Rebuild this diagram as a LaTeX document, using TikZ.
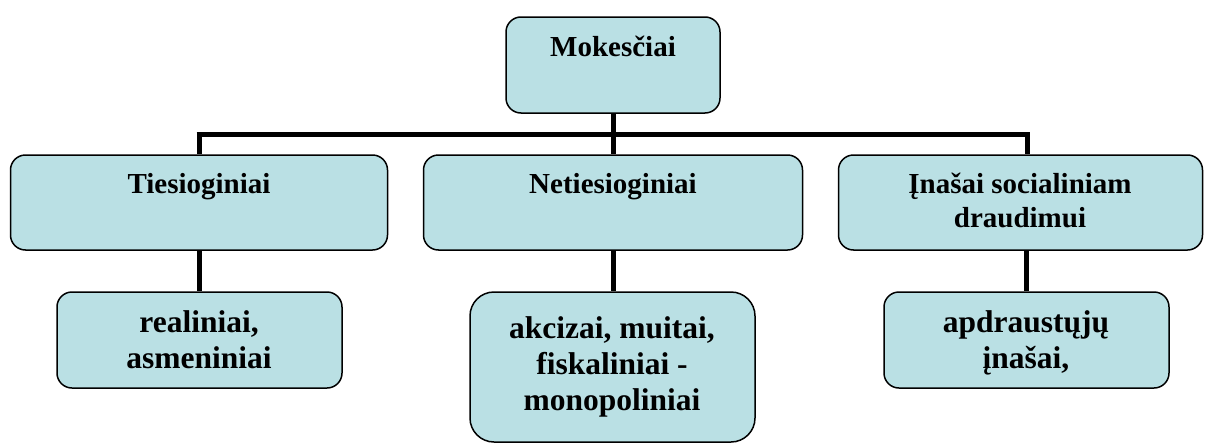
\documentclass[tikz,border=0pt]{standalone}
\usepackage{fontspec}
\setmainfont{Liberation Serif}
\definecolor{boxfill}{RGB}{186,224,228}
\tikzset{
  box/.style={draw=black, line width=1.5pt, fill=boxfill, rounded corners=15pt, inner sep=0pt},
  lbl/.style={anchor=base, align=center, inner sep=0pt, font=\bfseries\fontsize{29}{34}\selectfont},
  lblb/.style={anchor=base, align=center, inner sep=0pt, font=\bfseries\fontsize{31.5}{36}\selectfont},
  conn/.style={line width=5pt}
}
\begin{document}
\begin{tikzpicture}[x=1pt,y=-1pt]
\useasboundingbox (0,0) rectangle (1205,442);
% boxes
\node[box, minimum width=214pt, minimum height=96pt] (top) at (613,65) {};
\node[box, minimum width=377pt, minimum height=95pt] (L2a) at (199,202.5) {};
\node[box, minimum width=379pt, minimum height=95pt] (L2b) at (613,202.5) {};
\node[box, minimum width=364pt, minimum height=95pt] (L2c) at (1020.5,202.5) {};
\node[box, minimum width=285pt, minimum height=96pt] (L3a) at (199.5,340) {};
\node[box, rounded corners=24pt, minimum width=285pt, minimum height=150pt] (L3b) at (612.5,367) {};
\node[box, minimum width=285pt, minimum height=96pt] (L3c) at (1026.5,340) {};
% connectors
\coordinate (bl) at (199,134);
\coordinate (br) at (1027,134);
\draw[conn] (top.south) -- (L2b.north);
\draw[conn] ([xshift=-2.5pt]bl) -- ([xshift=2.5pt]br);
\draw[conn] (bl) -- (bl |- L2a.north);
\draw[conn] (br) -- (br |- L2c.north);
\draw[conn] (L2a.south) -- (L2a.south |- L3a.north);
\draw[conn] (L2b.south) -- (L2b.south |- L3b.north);
\draw[conn] (L3c.north |- L2c.south) -- (L3c.north);
% texts (base anchor = baseline of the last line)
\node[lbl] (t0) at (613,56) {Mokesčiai};
\node[lbl] (t1) at (199,193) {Tiesioginiai};
\node[lbl] (t2) at (613,193) {Netiesioginiai};
\node[lbl] (t3) at (1020,227) {Įnašai socialiniam\\draudimui};
\node[lblb] (t4) at (199,368) {realiniai,\\asmeniniai};
\node[lblb] (t5) at (612,410) {akcizai, muitai,\\fiskaliniai -\\monopoliniai};
\node[lblb] (t6) at (1026,368) {apdraustųjų\\įnašai,};
\end{tikzpicture}
\end{document}
